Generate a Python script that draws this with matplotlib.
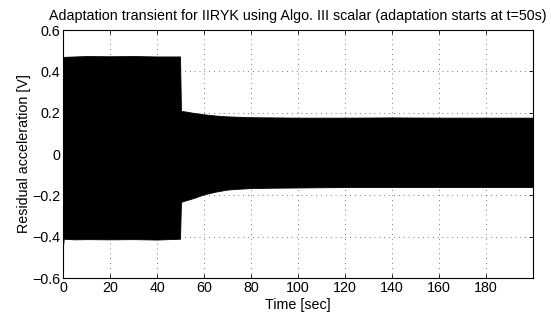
import numpy as np
import matplotlib
matplotlib.use("Agg")
from matplotlib import pyplot as plt

plt.rcParams['font.family'] = ['Liberation Sans', 'DejaVu Sans']

# envelope of the residual acceleration signal
t_env = [0, 0.3, 5, 10, 20, 30, 40, 49.8, 50.2, 52, 55, 60, 65, 70, 75, 80, 90, 100, 120, 140, 160, 180, 200]
upper = [0.47, 0.47, 0.472, 0.474, 0.473, 0.474, 0.472, 0.472, 0.208, 0.206, 0.200, 0.192, 0.186, 0.182, 0.180, 0.178, 0.177, 0.176, 0.176, 0.177, 0.176, 0.176, 0.176]
lower = [-0.45, -0.41, -0.413, -0.412, -0.413, -0.412, -0.414, -0.41, -0.232, -0.225, -0.215, -0.195, -0.182, -0.172, -0.168, -0.165, -0.163, -0.162, -0.160, -0.160, -0.160, -0.160, -0.160]

xticks = [0, 20, 40, 60, 80, 100, 120, 140, 160, 180]
yticks = [-0.6, -0.4, -0.2, 0, 0.2, 0.4, 0.6]
ytick_labels = ['\u22120.6', '\u22120.4', '\u22120.2', '0', '0.2', '0.4', '0.6']

fs = 10.3

fig = plt.figure(figsize=(5.51, 3.18), dpi=100)
ax = fig.add_axes([63 / 551, 1 - 278 / 318, 470 / 551, 248 / 318])

ax.fill_between(t_env, lower, upper, color='k', linewidth=0.6, edgecolor='k')

ax.set_xlim(0, 200)
ax.set_ylim(-0.6, 0.6)
ax.set_xticks(xticks)
ax.set_yticks(yticks)
ax.set_yticklabels(ytick_labels)
ax.tick_params(direction='in', top=True, right=True, length=3, width=0.6, labelsize=fs, pad=2)
ax.grid(True, color='k', linestyle=(0, (1, 6)), linewidth=0.5)
for s in ax.spines.values():
    s.set_linewidth(0.8)

ax.set_title("Adaptation transient for IIRYK using Algo. III scalar (adaptation starts at t=50s)", fontsize=fs, pad=7)
ax.set_xlabel("Time [sec]", fontsize=fs, labelpad=2)
ax.set_ylabel("Residual acceleration [V]", fontsize=fs, labelpad=1)

fig.savefig("out.png", dpi=100)
